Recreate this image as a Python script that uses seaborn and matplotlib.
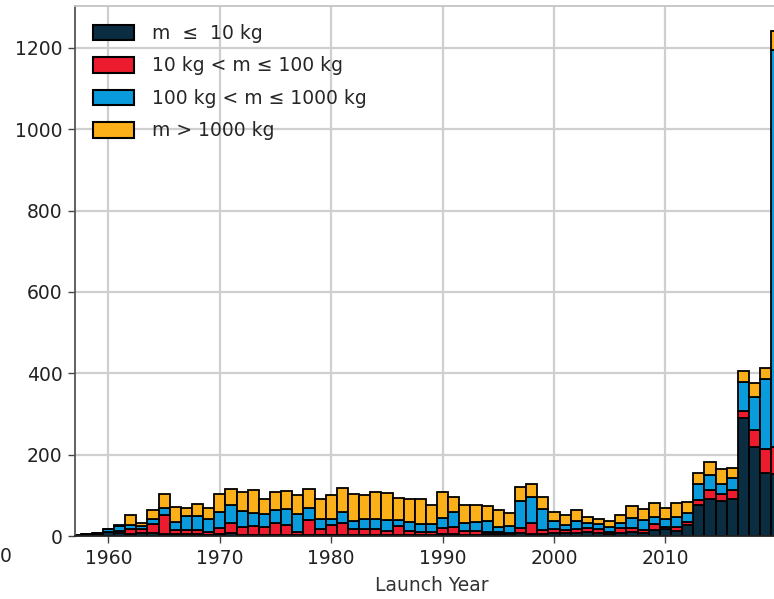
import numpy as np
import pandas as pd
import matplotlib
matplotlib.use("Agg")
import matplotlib.pyplot as plt
from matplotlib.patches import Patch
import seaborn as sns

# Satellites launched per year, split by launch mass class
years = list(range(1957, 2021))

mass_le_10 = [2, 4, 6, 10, 8, 6, 8, 8, 6, 4,
              5, 6, 3, 5, 7, 2, 3, 2, 2, 2,
              2, 2, 2, 2, 2, 2, 2, 2, 2, 2,
              2, 2, 2, 4, 4, 2, 2, 4, 4, 2,
              8, 6, 6, 8, 8, 8, 11, 8, 5, 8,
              11, 8, 15, 16, 13, 27, 75, 91, 87, 91,
              289, 218, 156, 152]
mass_10_100 = [0, 0, 1, 1, 4, 10, 8, 21, 45, 11,
               10, 8, 8, 14, 26, 19, 22, 19, 29, 25,
               8, 37, 16, 25, 30, 16, 16, 16, 11, 22,
               11, 8, 8, 16, 17, 10, 10, 7, 7, 6,
               11, 26, 8, 10, 7, 8, 8, 8, 6, 12,
               8, 7, 15, 5, 8, 8, 13, 23, 16, 23,
               19, 43, 57, 68]
mass_100_1000 = [0, 1, 1, 5, 12, 12, 8, 14, 19, 20,
                 33, 34, 30, 41, 43, 41, 31, 32, 33, 39,
                 45, 31, 25, 16, 27, 19, 25, 25, 26, 16,
                 22, 20, 20, 25, 39, 20, 22, 25, 11, 16,
                 68, 64, 53, 18, 12, 21, 12, 13, 11, 12,
                 25, 25, 16, 22, 25, 22, 41, 36, 26, 28,
                 71, 80, 172, 975]
mass_gt_1000 = [0, 0, 0, 0, 3, 23, 8, 22, 33, 37,
                22, 31, 27, 43, 39, 46, 56, 37, 44, 44,
                45, 45, 49, 57, 60, 67, 57, 66, 66, 54,
                57, 61, 47, 62, 37, 45, 43, 37, 41, 33,
                33, 31, 29, 24, 25, 28, 15, 12, 16, 19,
                30, 26, 34, 25, 34, 27, 27, 33, 35, 26,
                27, 34, 27, 47]

labels = ["m  ≤  10 kg", "10 kg < m ≤ 100 kg",
          "100 kg < m ≤ 1000 kg", "m > 1000 kg"]
colors = ["#0b2d42", "#ec1c2e", "#0a9bdc", "#fbb01a"]
xticks = [1960, 1970, 1980, 1990, 2000, 2010]
yticks = [0, 200, 400, 600, 800, 1000, 1200]

df = pd.concat([
    pd.DataFrame({"year": years, "mass_class": lab, "count": vals})
    for lab, vals in zip(labels, [mass_le_10, mass_10_100, mass_100_1000, mass_gt_1000])
], ignore_index=True)

sns.set_style("whitegrid")
plt.rcParams["font.family"] = ["DejaVu Sans"]

fig = plt.figure(figsize=(7.74, 5.99), dpi=100)
ax = fig.add_axes([75 / 774, 63 / 599, 713 / 774, 530 / 599])

# seaborn stacks the last hue level at the bottom
stack_order = labels[::-1]
sns.histplot(data=df, x="year", weights="count", hue="mass_class",
             hue_order=stack_order, palette=dict(zip(labels, colors)),
             multiple="stack", discrete=True, shrink=1.0,
             edgecolor="black", linewidth=1.3, alpha=1, legend=False, ax=ax)

ax.set_xlim(1957.0, 2021.0)
ax.set_ylim(0, 1303)
ax.set_xticks(xticks)
ax.set_yticks(yticks)
ax.set_axisbelow(True)
ax.grid(True, color="#cfcfcf", linewidth=1.6)
ax.set_xlabel("Launch Year", fontsize=13.5, color="#333333", labelpad=6)
ax.set_ylabel("")

ax.tick_params(axis="both", which="major", direction="out", length=5,
               width=1.0, color="#444444", labelsize=13.5, labelcolor="#222222",
               bottom=True, left=True, pad=4)

ax.spines["left"].set_color("#555555")
ax.spines["left"].set_linewidth(1.3)
ax.spines["bottom"].set_color("#222222")
ax.spines["bottom"].set_linewidth(1.3)
ax.spines["top"].set_color("#c4c4c4")
ax.spines["top"].set_linewidth(1.3)
ax.spines["right"].set_visible(False)

handles = [Patch(facecolor=c, edgecolor="black", linewidth=1.5) for c in colors]
ax.legend(handles, labels, loc="upper left", frameon=False, fontsize=13.5,
          handlelength=2.2, handleheight=0.9, handletextpad=0.95,
          labelspacing=0.72, borderaxespad=0.5, borderpad=0.45)

fig.text(6 / 774, 43 / 599, "0", fontsize=13.5, color="#222222",
         ha="center", va="center")

fig.savefig("out.png", dpi=100)
